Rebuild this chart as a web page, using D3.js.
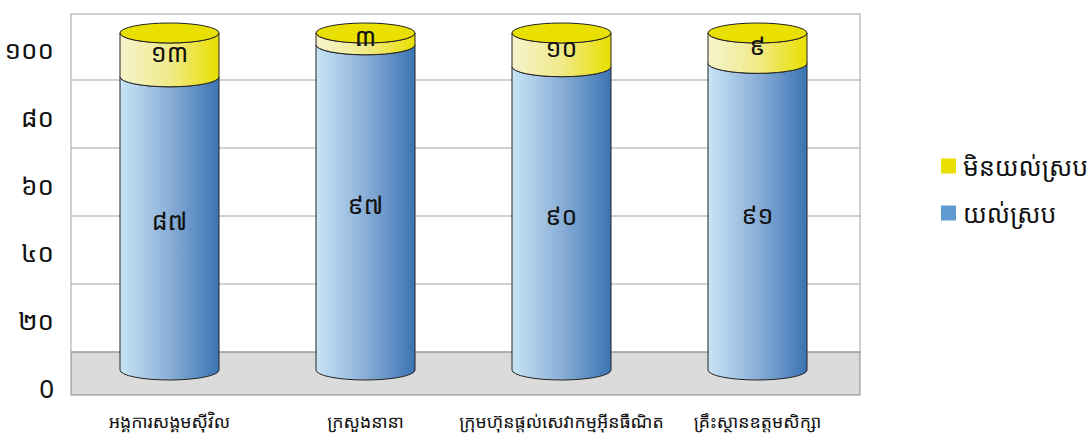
<!DOCTYPE html>
<html lang="km">
<head>
    <meta charset="UTF-8">
    <title>Stacked cylinder chart</title>
    <script src="https://d3js.org/d3.v7.min.js"></script>
    <style>
        body { margin: 0; background: #fff; }
        text { font-family: "Noto Sans Khmer", "Khmer OS", "Noto Sans", "DejaVu Sans", sans-serif; fill: #111; }
    </style>
</head>
<body>
    <div id="chart"></div>
    <script>
        const categories = ["អង្គការសង្គមស៊ីវិល", "ក្រសួងនានា", "ក្រុមហ៊ុនផ្តល់សេវាកម្មអ៊ីនធឺណិត", "គ្រឹះស្ថានឧត្តមសិក្សា"];
        const agree = [87, 96.5, 90, 91];
        const disagree = [13, 3.5, 10, 9];
        const agreeLabels = ["៨៧", "៩៧", "៩០", "៩១"];
        const disagreeLabels = ["១៣", "៣", "១០", "៩"];
        const tickValues = [0, 20, 40, 60, 80, 100];
        const tickLabels = ["0", "២០", "៤០", "៦០", "៨០", "១០០"];
        const legendLabels = ["មិនយល់ស្រប", "យល់ស្រប"];

        const width = 1089, height = 435;
        const plot = { left: 71, right: 860, top: 14, bottom: 395, floor: 352 };
        const svg = d3.select("#chart").append("svg")
            .attr("width", width).attr("height", height).style("display", "block");

        const x = d3.scaleBand().domain(categories).range([71.5, 855.5]);
        // cylinders stand in front of the back wall, so they get their own scale
        const y = d3.scaleLinear().domain([0, 100]).range([370, 33]);
        const yWall = d3.scaleLinear().domain([0, 100]).range([plot.floor, 12]);
        const yTick = d3.scaleLinear().domain([0, 100]).range([388, 49]);

        const rx = 49.5, ry = 10;

        function gradient(id, stops) {
            const g = svg.append("defs").append("linearGradient").attr("id", id);
            stops.forEach(s => g.append("stop").attr("offset", s[0]).attr("stop-color", s[1]));
        }
        gradient("blue", [[0, "#c8e5f6"], [0.5, "#8aaed7"], [1, "#3a74b3"]]);
        gradient("yellow", [[0, "#f6f4cd"], [0.5, "#f0ea8a"], [1, "#e9df00"]]);

        // walls
        svg.append("rect").attr("x", plot.left).attr("y", plot.floor)
            .attr("width", plot.right - plot.left).attr("height", plot.bottom - plot.floor)
            .attr("fill", "#dbdbdb").attr("stroke", "#888").attr("stroke-width", 1);
        svg.append("rect").attr("x", plot.left).attr("y", plot.top)
            .attr("width", plot.right - plot.left).attr("height", plot.floor - plot.top)
            .attr("fill", "none").attr("stroke", "#a0a0a0").attr("stroke-width", 1);
        svg.selectAll(".grid").data(tickValues.slice(1, 5)).enter().append("line")
            .attr("x1", plot.left).attr("x2", plot.right)
            .attr("y1", d => yWall(d)).attr("y2", d => yWall(d))
            .attr("stroke", "#a0a0a0").attr("stroke-width", 1);

        // y axis labels
        svg.selectAll(".tick-label").data(tickValues).enter().append("text")
            .attr("x", 54).attr("y", d => yTick(d))
            .attr("text-anchor", "end").attr("dominant-baseline", "central")
            .attr("font-size", 26)
            .text((d, i) => tickLabels[i]);

        // body of a cylinder segment between two values
        function segment(cx, y0, y1) {
            return `M${cx - rx},${y1} L${cx - rx},${y0} A${rx},${ry} 0 0 0 ${cx + rx},${y0} L${cx + rx},${y1} A${rx},${ry} 0 0 1 ${cx - rx},${y1} Z`;
        }

        categories.forEach((c, i) => {
            const cx = x(c) + x.bandwidth() / 2;
            const yA = y(agree[i]), yB = y(agree[i] + disagree[i]);
            svg.append("path").attr("d", segment(cx, y(0), yA))
                .attr("fill", "url(#blue)").attr("stroke", "#222").attr("stroke-width", 1);
            svg.append("path").attr("d", segment(cx, yA, yB))
                .attr("fill", "url(#yellow)").attr("stroke", "#222").attr("stroke-width", 1);
            svg.append("ellipse").attr("cx", cx).attr("cy", yB).attr("rx", rx).attr("ry", ry)
                .attr("fill", "#e9df00").attr("stroke", "#222").attr("stroke-width", 1);

            svg.append("text").attr("x", cx).attr("y", (y(0) + yA) / 2 - 3)
                .attr("text-anchor", "middle").attr("dominant-baseline", "central")
                .attr("font-size", 25).text(agreeLabels[i]);
            svg.append("text").attr("x", cx).attr("y", (yA + yB) / 2 - 3)
                .attr("text-anchor", "middle").attr("dominant-baseline", "central")
                .attr("font-size", 25).text(disagreeLabels[i]);

            svg.append("text").attr("x", cx).attr("y", 421)
                .attr("text-anchor", "middle").attr("dominant-baseline", "central")
                .attr("font-size", 17.7).text(c);
        });

        // legend
        const legendColors = ["#e9df00", "#5f9bd1"];
        const legendY = d3.scalePoint().domain(legendLabels).range([166, 213]);
        legendLabels.forEach((l, i) => {
            svg.append("rect").attr("x", 941).attr("y", legendY(l) - 7.5)
                .attr("width", 15).attr("height", 15).attr("fill", legendColors[i]);
            svg.append("text").attr("x", 963).attr("y", legendY(l))
                .attr("dominant-baseline", "central").attr("font-size", 25).text(l);
        });
    </script>
</body>
</html>
